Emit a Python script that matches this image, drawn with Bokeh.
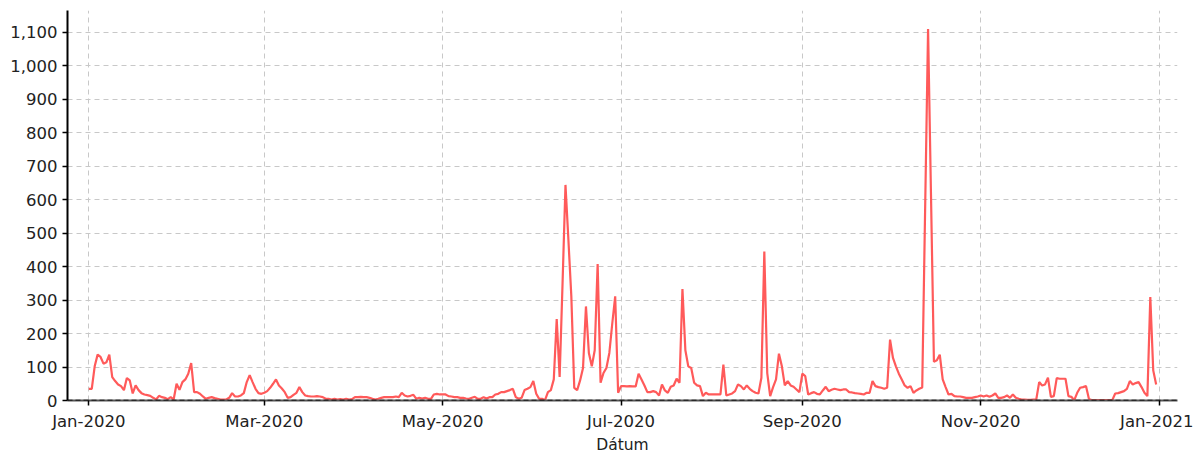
import pandas as pd
from bokeh.plotting import figure
from bokeh.models import FixedTicker, NumeralTickFormatter, Span, ColumnDataSource
from bokeh.embed import file_html
from bokeh.resources import INLINE

jan = [35, 35, 102, 137, 130, 110, 114, 137, 70, 58, 48, 43, 31, 67, 60, 21, 45, 31, 22, 18, 16, 14, 8, 3, 14, 10, 8, 4, 10, 3, 50]
feb = [32, 55, 63, 80, 112, 25, 25, 20, 12, 5, 8, 10, 7, 5, 3, 3, 3, 8, 22, 12, 12, 15, 22, 55, 76, 55, 35, 22, 20]
mar = [23, 28, 38, 50, 63, 45, 36, 25, 8, 10, 17, 23, 40, 25, 15, 13, 12, 12, 13, 12, 10, 5, 5, 3, 5, 3, 4, 3, 5, 3, 4]
apr = [10, 10, 11, 10, 10, 8, 5, 3, 5, 8, 10, 10, 10, 10, 12, 10, 23, 15, 12, 14, 17, 5, 8, 6, 8, 5, 5, 18, 20, 18]
may = [18, 18, 13, 12, 10, 10, 8, 8, 6, 5, 8, 11, 5, 5, 10, 6, 10, 10, 18, 20, 25, 25, 28, 31, 35, 10, 5, 8, 31, 35, 40]
jun = [58, 20, 5, 5, 1, 25, 31, 63, 243, 70, 350, 644, 480, 311, 38, 31, 60, 97, 281, 142, 102, 150, 408, 53, 82, 97, 142, 230, 311, 23]
jul = [43, 43, 42, 43, 42, 42, 80, 63, 45, 25, 25, 28, 25, 15, 48, 30, 23, 41, 45, 65, 53, 333, 150, 102, 97, 53, 45, 43, 13, 23, 18]
aug = [18, 18, 18, 18, 107, 15, 18, 21, 28, 48, 43, 33, 45, 35, 28, 23, 21, 68, 445, 82, 13, 40, 63, 140, 102, 45, 58, 45, 41, 33, 25]
sep = [80, 73, 18, 22, 25, 20, 18, 30, 41, 28, 32, 35, 33, 31, 33, 33, 25, 24, 22, 21, 20, 18, 23, 23, 58, 43, 40, 38, 35, 38]
oct_ = [182, 127, 102, 80, 63, 45, 38, 43, 23, 30, 35, 39, 575, 1110, 613, 116, 120, 137, 63, 40, 18, 20, 13, 12, 12, 10, 8, 8, 8, 10, 12]
nov = [15, 12, 15, 11, 15, 21, 8, 8, 10, 15, 8, 18, 8, 5, 3, 3, 2, 2, 3, 3, 55, 45, 48, 68, 11, 13, 67, 65, 65, 65]
dec = [13, 11, 1, 23, 38, 40, 43, 5, 1, 1, 1, 1, 1, 1, 1, 1, 21, 22, 25, 28, 35, 58, 48, 52, 55, 40, 23, 13, 309, 90, 48]

start_date = "2020-01-01"
x_tick_dates = ["2020-01-01", "2020-03-01", "2020-05-01", "2020-07-01", "2020-09-01", "2020-11-01", "2021-01-01"]
x_tick_labels = ["Jan-2020", "Mar-2020", "May-2020", "Jul-2020", "Sep-2020", "Nov-2020", "Jan-2021"]
y_ticks = [0, 100, 200, 300, 400, 500, 600, 700, 800, 900, 1000, 1100]

values = jan + feb + mar + apr + may + jun + jul + aug + sep + oct_ + nov + dec
dates = pd.date_range(start_date, periods=len(values), freq="D")
src = ColumnDataSource(dict(x=dates, y=values))

x0 = pd.Timestamp("2020-01-01") - pd.Timedelta(days=7.3)
x1 = pd.Timestamp("2020-12-31") + pd.Timedelta(days=7.3)

p = figure(width=1193, height=456, x_axis_type="datetime",
           x_range=(x0, x1), y_range=(0, 1165),
           output_backend="svg", toolbar_location=None,
           min_border_left=67, min_border_right=16, min_border_top=10, min_border_bottom=55)
p.outline_line_color = None

p.line("x", "y", source=src, line_color="#ff5a5a", line_width=2.2)

tick_ms = [pd.Timestamp(d).value / 1e6 for d in x_tick_dates]
p.xaxis.ticker = FixedTicker(ticks=tick_ms)
p.xaxis.major_label_overrides = {t: l for t, l in zip(tick_ms, x_tick_labels)}
p.yaxis.ticker = FixedTicker(ticks=y_ticks)
p.yaxis.formatter = NumeralTickFormatter(format="0,0")

for ax in (p.xaxis, p.yaxis):
    ax.major_label_text_font = "DejaVu Sans"
    ax.major_label_text_font_size = "16.5px"
    ax.major_label_text_color = "#222222"
    ax.axis_line_color = "black"
    ax.axis_line_width = 2
    ax.major_tick_line_color = "black"
    ax.major_tick_line_width = 1.5
    ax.major_tick_out = 5
    ax.major_tick_in = 0
    ax.minor_tick_line_color = None

p.xaxis.major_label_standoff = 6
p.xaxis.axis_line_color = "#555555"
p.xaxis.axis_label = "Dátum"
p.xaxis.axis_label_text_font = "DejaVu Sans"
p.xaxis.axis_label_text_font_size = "15.5px"
p.xaxis.axis_label_text_font_style = "normal"
p.xaxis.axis_label_text_color = "#222222"
p.xaxis.axis_label_standoff = 2

p.grid.grid_line_color = "#c8c8c8"
p.grid.grid_line_dash = "5 4"
p.grid.grid_line_width = 1

p.add_layout(Span(location=0, dimension="width", line_color="black", line_dash="5 3", line_width=1.5))

open("out.html", "w").write(file_html(p, INLINE))
